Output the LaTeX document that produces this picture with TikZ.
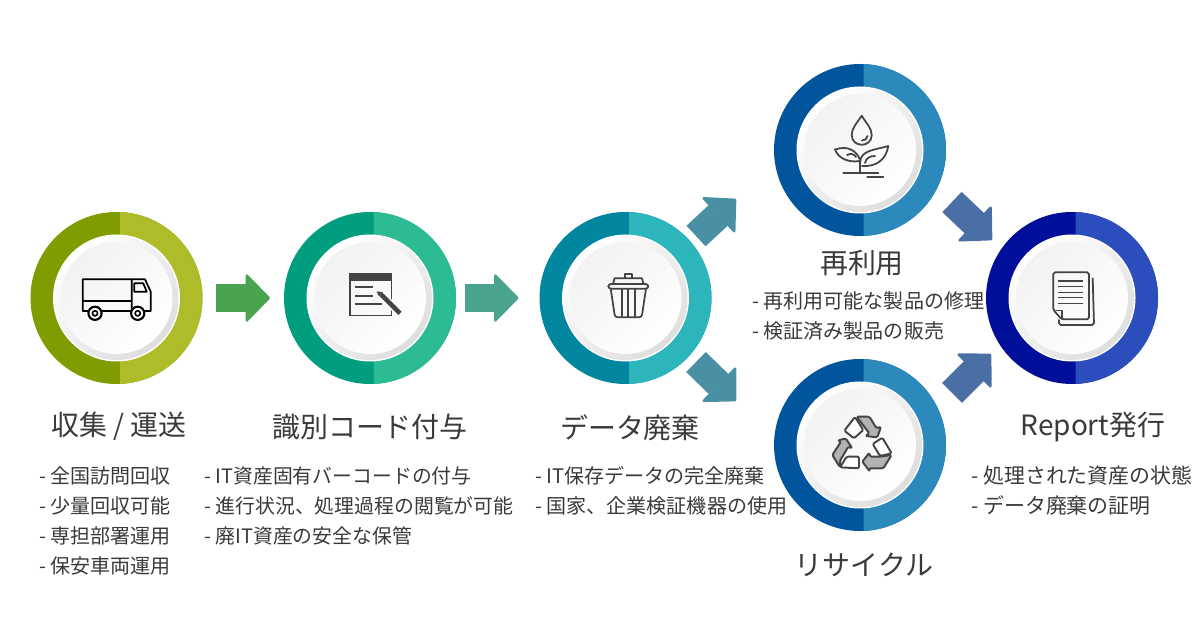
\documentclass[tikz,border=0pt]{standalone}
\usepackage{fontspec}
\setmainfont{Noto Sans CJK JP}
\usetikzlibrary{positioning,arrows.meta,calc}
\definecolor{txt}{HTML}{3A3A3A}
\definecolor{ico}{HTML}{444444}
\definecolor{limeD}{HTML}{7F9C00}
\definecolor{limeL}{HTML}{AEBC2A}
\definecolor{tealD}{HTML}{009E7E}
\definecolor{tealL}{HTML}{2CBB92}
\definecolor{cyanD}{HTML}{00879F}
\definecolor{cyanL}{HTML}{2CB6BC}
\definecolor{blueD}{HTML}{00559C}
\definecolor{blueL}{HTML}{2B89BC}
\definecolor{navyD}{HTML}{000F9A}
\definecolor{navyL}{HTML}{2B4EBC}
\definecolor{flowA}{HTML}{4AA34E}
\definecolor{flowB}{HTML}{49A38F}
\definecolor{flowC}{HTML}{4A90A4}
\definecolor{flowD}{HTML}{4A6FA5}
\tikzset{
  ringnode/.style={circle,minimum size=3.44cm,inner sep=0pt,outer sep=0pt},
  title/.style={font=\fontsize{15.9}{19}\selectfont,text=txt,inner sep=0pt},
  note/.style={font=\fontsize{11.4}{17}\selectfont,text=txt,align=left,inner sep=0pt,anchor=north west},
  flow/.style={line width=.56cm,-{Triangle[length=.5cm,width=1.01cm,round,line width=.05cm]}},
  icon/.style={draw=ico,line width=1pt,line join=round,line cap=round},
  sgnW/.style={draw=ico,fill=white,line width=1.1pt,line join=round,rounded corners=.8pt},
  sgnG/.style={draw=ico,fill=black!30,line width=1.1pt,line join=round,rounded corners=.8pt},
}
\newcommand{\stepring}[5]{%
  \node[ringnode] (#1) at (#2,#3) {};
  \fill[#4] (#1) circle[radius=86];
  \begin{scope}
  \clip ($(#1)+(3.5,-90)$) rectangle ($(#1)+(90,90)$);
  \fill[#5] (#1) circle[radius=86];
  \end{scope}
  \fill[white] (#1) circle[radius=63.5];
  \shade[top color=white,middle color=white,bottom color=black!13,shading angle=45] (#1) circle[radius=62];
  \shade[top color=black!5,middle color=white,bottom color=white,shading angle=45] (#1) circle[radius=56];}
\begin{document}
\begin{tikzpicture}[x=0.02cm,y=-0.02cm]
\useasboundingbox (0,0) rectangle (1200,634);
\stepring{collect}{116.5}{298}{limeD}{limeL}
\stepring{code}{370}{298}{tealD}{tealL}
\stepring{erase}{625.5}{298}{cyanD}{cyanL}
\stepring{reuse}{860}{150}{blueD}{blueL}
\stepring{recycle}{860}{445}{blueD}{blueL}
\stepring{report}{1072}{298}{navyD}{navyL}
\coordinate (upT) at (696,236);
\coordinate (upH) at (736,199);
\coordinate (dnT) at (696,362);
\coordinate (dnH) at (736,401);
\coordinate (inT) at (952,202);
\coordinate (inH) at (992,240);
\coordinate (ouT) at (952,393);
\coordinate (ouH) at (991,354);
\draw[flow,color=flowA,shorten <=.28cm,shorten >=.28cm] (collect.east) -- (code.west);
\draw[flow,color=flowB,shorten <=.18cm,shorten >=.42cm] (code.east) -- (erase.west);
\draw[flow,color=flowC] (upT) -- (upH);
\draw[flow,color=flowC] (dnT) -- (dnH);
\draw[flow,color=flowD] (inT) -- (inH);
\draw[flow,color=flowD] (ouT) -- (ouH);
\draw[black,line width=1pt,line join=round] (131.7,311) -- (82.7,311) -- (82.7,279.3) -- (145,279.3) -- (150.7,291.7) -- (150.7,311) -- (131.7,311) -- (131.7,279.3);
\draw[black,line width=1pt] (82.7,301) -- (131.7,301);
\draw[black,line width=1pt,line join=round] (134.3,283.3) -- (143.3,283.3) -- (146.7,291.7) -- (134.3,291.7) -- cycle;
\foreach \wx in {95,137.7}{
  \draw[black,line width=1.2pt,fill=white] (\wx,313.3) circle[radius=6.6];
  \draw[black,line width=.9pt] (\wx,313.3) circle[radius=2.6];}
\draw[ico,line width=.9pt] (350,274) rectangle (391.7,315.7);
\fill[ico] (350,274) rectangle (391.7,280.7);
\draw[ico,line width=1.2pt] (355,287.3) -- (373.3,287.3) (355,295.7) -- (373.3,295.7) (355,304.3) -- (381.7,304.3);
\draw[white,line width=4.4pt] (380,293.5) -- (400,313.3);
\draw[ico,line width=2.6pt] (381,294.5) -- (400,313.3);
\fill[ico] (376.5,291.5) -- (383,292) -- (379,296.5) -- cycle;
\draw[icon,rounded corners=1.5pt] (608.3,284) rectangle (648.3,288.7);
\draw[icon] (613,284) -- (614.5,278.3) -- (642,278.3) -- (643.5,284);
\draw[icon] (625,278.3) -- (625,274.3) -- (631.7,274.3) -- (631.7,278.3);
\draw[icon,rounded corners=1.5pt] (610.7,288.7) -- (615,317.3) -- (641.7,317.3) -- (646,288.7);
\draw[icon] (621.7,289) -- (621.7,317) (628.3,289) -- (628.3,317) (635,289) -- (635,317);
\draw[icon] (861.7,115.7) .. controls (857,123) and (851.7,128) .. (851.7,135) .. controls (851.7,148) and (871.7,148) .. (871.7,135) .. controls (871.7,128) and (866,123) .. (861.7,115.7);
\draw[icon] (862,140.5) .. controls (865,140.5) and (867,139) .. (867.5,136);
\draw[icon] (860,172.7) -- (860,160) .. controls (857,151) and (848,145) .. (835,149.5) .. controls (838,158) and (848,163) .. (860,161);
\draw[icon] (862,166) .. controls (876,167) and (886,160) .. (888.3,146) .. controls (875,150) and (860,150) .. (860,163);
\draw[icon] (847,155) .. controls (851,153) and (854,154) .. (856,157);
\draw[icon] (865,163) .. controls (866,158) and (870,156) .. (875,156);
\draw[icon] (843.3,172.7) -- (878.3,172.7) (867.3,177.3) -- (883.3,177.3);
\begin{scope}[shift={(680,340)},x=0.00667cm,y=-0.00667cm]
\draw[sgnW] (493,272) -- (525,231) -- (550,270) -- (522,295) -- cycle;
\draw[sgnG] (530,230) -- (568,230) -- (590,265) -- (603,260) -- (592,292) -- (556,288) -- (568,280) -- cycle;
\draw[sgnW] (578,312) -- (607,293) -- (635,340) -- (600,348) -- cycle;
\draw[sgnG] (635,345) -- (610,385) -- (567,385) -- (570,395) -- (547,365) -- (568,338) -- (570,350) -- (600,350) -- cycle;
\draw[sgnG] (497,295) -- (517,325) -- (505,320) -- (480,362) -- (480,382) -- (457,345) -- (483,305) -- (473,302) -- cycle;
\draw[sgnW] (480,382) -- (500,350) -- (537,350) -- (537,385) -- cycle;
\end{scope}
\draw[icon,rounded corners=1pt] (1092.7,278.3) -- (1094,325) -- (1059,325) -- (1059,320);
\draw[icon,rounded corners=1pt] (1061.7,319.3) -- (1089,319.3) -- (1089,272.3) -- (1053.3,272.3) -- (1053.3,310) -- cycle;
\draw[icon] (1056,310.5) -- (1061.7,310.5) -- (1061.7,319);
\foreach \ly in {281,286.7,292.3,297.7,303.3}{\draw[ico,line width=.8pt] (1058.3,\ly) -- (1082.7,\ly);}
\node[title] (tCollect) at (119,426.5) {収集 / 運送};
\node[title] (tCode) at (370,426.5) {識別コード付与};
\node[title] (tErase) at (630,427.5) {データ廃棄};
\node[title] (tReuse) at (862,263.5) {再利用};
\node[title] (tRecycle) at (864,564.5) {リサイクル};
\node[title] (tReport) at (1093,426.5) {Report発行};
\node[note] (nCollect) at (39,466.5) {- 全国訪問回収\\- 少量回収可能\\- 専担部署運用\\- 保安車両運用};
\node[note,font=\fontsize{11.3}{17}\selectfont] (nCode) at (204,466.5) {- IT資産固有バーコードの付与\\- 進行状況、処理過程の閲覧が可能\\- 廃IT資産の安全な保管};
\node[note] (nErase) at (535,466.5) {- IT保存データの完全廃棄\\- 国家、企業検証機器の使用};
\node[note] (nReuse) at (752,291) {- 再利用可能な製品の修理\\- 検証済み製品の販売};
\node[note,font=\fontsize{11.9}{17}\selectfont] (nReport) at (971,465.5) {- 処理された資産の状態\\- データ廃棄の証明};
\end{tikzpicture}
\end{document}
